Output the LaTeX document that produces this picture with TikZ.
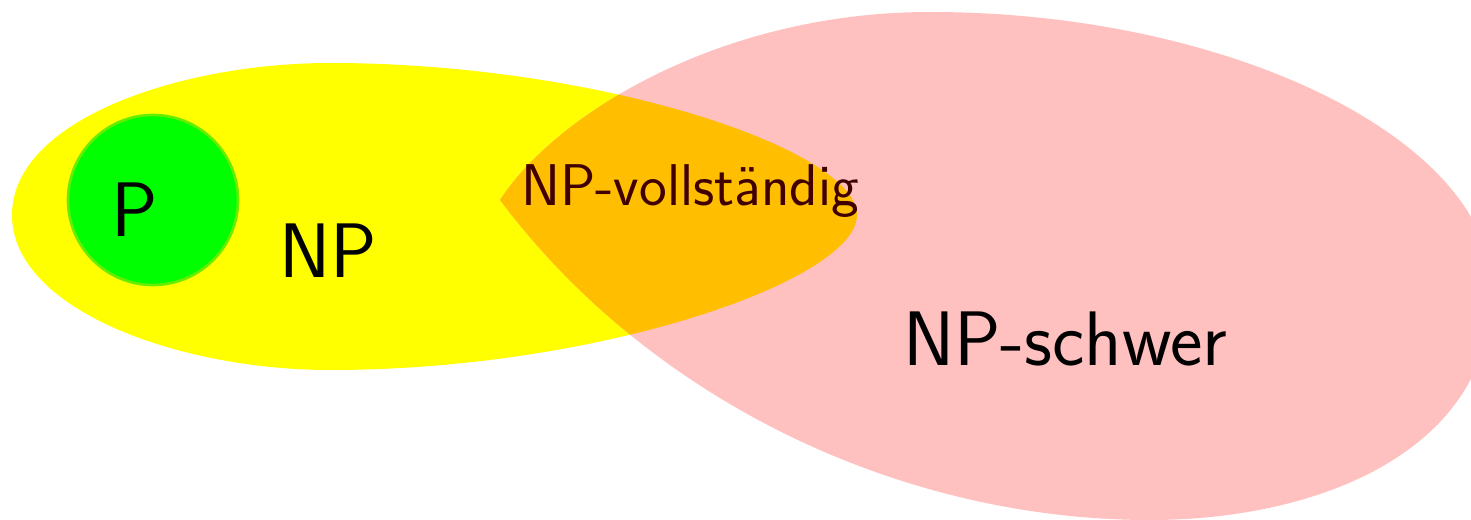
\documentclass[tikz,border=0pt]{standalone}
\usepackage{fontspec}
\begin{document}
\begin{tikzpicture}[x=0.02cm,y=-0.02cm,
  lbl/.style={font=\sffamily\fontsize{44}{52}\selectfont, inner sep=0pt, anchor=base},
  small/.style={font=\sffamily\fontsize{33.5}{40}\selectfont, inner sep=0pt, anchor=base, text=darkred}]
\definecolor{npyellow}{HTML}{FFFF00}
\definecolor{hardpink}{HTML}{FFC0C0}
\definecolor{compl}{HTML}{FFBF00}
\definecolor{pgreen}{HTML}{00FF00}
\definecolor{pborder}{HTML}{66EE00}
\definecolor{darkred}{HTML}{400000}
\useasboundingbox (0,0) rectangle (1471,520);
\def\yellowpath{(12,215) .. controls (12,120) and (180,63) .. (330,63) .. controls (600,63) and (857,150) .. (857,215) .. controls (857,280) and (600,370) .. (330,370) .. controls (180,370) and (12,310) .. (12,215) -- cycle}
\def\pinkpath{(500,200) .. controls (555,115) and (720,12) .. (930,12) .. controls (1230,12) and (1492,140) .. (1492,290) .. controls (1492,450) and (1320,520) .. (1150,520) .. controls (900,520) and (650,400) .. (500,200) -- cycle}
\fill[npyellow] \yellowpath;
\fill[hardpink] \pinkpath;
\begin{scope}
  \clip \yellowpath;
  \fill[compl] \pinkpath;
\end{scope}
\node[circle, fill=pgreen, draw=pborder, line width=1.5pt, minimum size=170*0.02cm, inner sep=0pt] (pc) at (153,200) {};
\node[lbl] (p) at (135,237) {P};
\node[lbl] (np) at (328,277) {NP};
\node[lbl] (nph) at (1065,365) {NP-schwer};
\node[small] (npc) at (690,206) {NP-vollständig};
\end{tikzpicture}
\end{document}
